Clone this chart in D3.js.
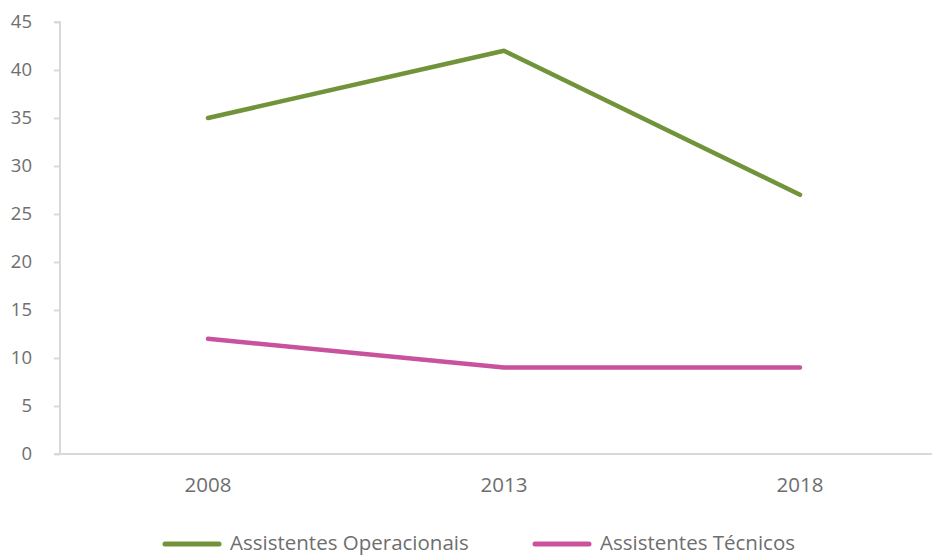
<!DOCTYPE html>
<html><head><meta charset="utf-8">
<script src="https://cdn.jsdelivr.net/npm/d3@7"></script>
<style>body{margin:0;background:#fff;}svg{display:block;}</style>
</head><body>
<svg id="c" width="932" height="556"></svg>
<script>
const categories = ["2008", "2013", "2018"];
const seriesNames = ["Assistentes Operacionais", "Assistentes Técnicos"];
const operacionais = [35, 42, 27];
const tecnicos = [12, 9, 9];
const yTicks = [0, 5, 10, 15, 20, 25, 30, 35, 40, 45];
const colors = ["#71933a", "#c9529d"];

const svg = d3.select("#c");
const font = "'Open Sans', 'Liberation Sans', Arial, sans-serif";
const txt = "#6e6e6e";
const mLeft = 60, mRight = 948, mTop = 22, mBottom = 454;
const x = d3.scaleBand().domain(categories).range([mLeft, mRight]);
const y = d3.scaleLinear().domain([0, 45]).range([mBottom, mTop]);

// y axis
const ya = svg.append("g").attr("transform", `translate(${mLeft},0)`)
  .call(d3.axisLeft(y).tickValues(yTicks).tickSize(6).tickPadding(22));
ya.select(".domain").attr("stroke", "#d9d9d9").attr("stroke-width", 2).attr("d", `M-6,${mTop}H0V${mBottom}`);
ya.selectAll(".tick line").attr("stroke", "#d9d9d9").attr("stroke-width", 2);
ya.selectAll(".tick text").attr("fill", txt).style("font-family", font).style("font-size", "18.5px");

// x axis
const xa = svg.append("g").attr("transform", `translate(0,${mBottom})`)
  .call(d3.axisBottom(x).tickSize(0).tickPadding(23));
xa.select(".domain").attr("stroke", "#d9d9d9").attr("stroke-width", 2).attr("d", `M${mLeft-6},0H${mRight}`);
xa.selectAll(".tick text").attr("fill", txt).style("font-family", font).style("font-size", "20.5px");

const line = d3.line().x((d, i) => x(categories[i]) + x.bandwidth() / 2).y(d => y(d));
[operacionais, tecnicos].forEach((s, i) => {
  svg.append("path").datum(s).attr("d", line).attr("fill", "none")
    .attr("stroke", colors[i]).attr("stroke-width", 4.5).attr("stroke-linecap", "round").attr("stroke-linejoin", "round");
});

// legend
const leg = [{x: 165, name: seriesNames[0], c: colors[0]}, {x: 535, name: seriesNames[1], c: colors[1]}];
leg.forEach(l => {
  svg.append("line").attr("x1", l.x).attr("x2", l.x + 54).attr("y1", 544).attr("y2", 544)
    .attr("stroke", l.c).attr("stroke-width", 5).attr("stroke-linecap", "round");
  svg.append("text").attr("x", l.x + 65).attr("y", 550).text(l.name)
    .attr("fill", txt).style("font-family", font).style("font-size", "20.5px");
});
</script>
</body></html>
